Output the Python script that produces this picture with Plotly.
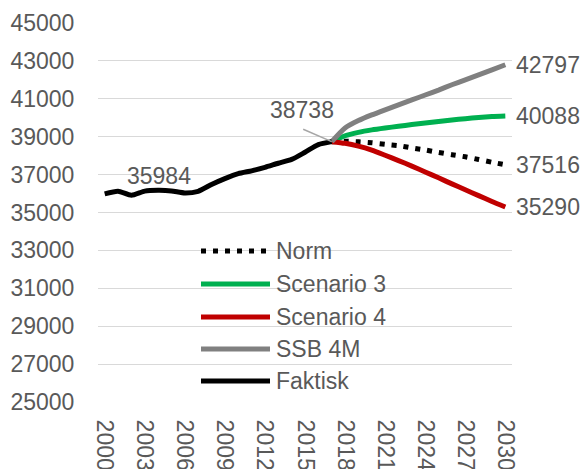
import plotly.graph_objects as go

# faktiske tall
years_faktisk = list(range(2000, 2018))
faktisk = [35984, 36120, 35910, 36130, 36170, 36140, 36030, 36120, 36480,
           36790, 37050, 37200, 37380, 37600, 37800, 38180, 38580, 38738]

# prognoser
years_prognose = list(range(2017, 2031))
norm = [38738, 38760, 38730, 38680, 38600, 38530, 38410, 38300, 38170,
        38050, 37940, 37800, 37650, 37516]
scenario3 = [38738, 39050, 39230, 39360, 39460, 39550, 39640, 39720, 39800,
             39880, 39950, 40010, 40060, 40088]
scenario4 = [38738, 38650, 38500, 38290, 38020, 37740, 37450, 37140, 36830,
             36510, 36200, 35890, 35580, 35290]
ssb4m = [38738, 39460, 39850, 40150, 40420, 40680, 40940, 41200, 41460,
         41740, 42000, 42260, 42530, 42797]

y_ticks = list(range(25000, 45001, 2000))
x_ticks = list(range(2000, 2031, 3))

FONT = "Liberation Sans, Arial, sans-serif"
GREY_TXT = "#595959"

series = [
    ("Norm", years_prognose, norm, "#000000", "5px,7px"),
    ("Scenario 3", years_prognose, scenario3, "#00b050", "solid"),
    ("Scenario 4", years_prognose, scenario4, "#c00000", "solid"),
    ("SSB 4M", years_prognose, ssb4m, "#808080", "solid"),
    ("Faktisk", years_faktisk, faktisk, "#000000", "solid"),
]

fig = go.Figure()

for name, xs, ys, color, dash in series:
    fig.add_trace(go.Scatter(
        x=xs, y=ys, name=name, mode="lines",
        line=dict(color=color, width=5, dash=dash, shape="spline", smoothing=0.6),
        showlegend=False,
    ))

# end labels
for name, xs, ys, color, dash in series[:4]:
    fig.add_annotation(x=xs[-1], y=ys[-1], text=str(ys[-1]), showarrow=False,
                       xanchor="left", yanchor="middle", xshift=9,
                       font=dict(family=FONT, size=23, color=GREY_TXT))

fig.add_annotation(x=years_faktisk[0], y=faktisk[0], text=str(faktisk[0]),
                   showarrow=False, xshift=54, yshift=18,
                   font=dict(family=FONT, size=23, color=GREY_TXT))
fig.add_annotation(x=years_faktisk[-1], y=faktisk[-1], text=str(faktisk[-1]),
                   showarrow=False, xshift=-30, yshift=32,
                   font=dict(family=FONT, size=23, color=GREY_TXT))
fig.add_annotation(x=years_faktisk[-1], y=faktisk[-1], text="", showarrow=True,
                   ax=-30, ay=-13, arrowhead=0, arrowwidth=1.5,
                   arrowcolor="#a6a6a6", standoff=0)

# legend drawn by hand so the line samples get Excel's length
row_y = [251, 284, 317, 349, 381]
for (name, xs, ys, color, dash), py in zip(series, row_y):
    yp = (402 - py) / 379
    fig.add_shape(type="line", xref="paper", yref="paper",
                  x0=(201 - 98) / 414, x1=(270 - 98) / 414, y0=yp, y1=yp,
                  line=dict(color=color, width=5, dash=dash))
    fig.add_annotation(xref="paper", yref="paper", x=(274 - 98) / 414, y=yp,
                       text=name, showarrow=False, xanchor="left", yanchor="middle",
                       font=dict(family=FONT, size=23, color=GREY_TXT))

fig.update_layout(
    width=587, height=469,
    margin=dict(l=98, r=75, t=23, b=67),
    paper_bgcolor="white", plot_bgcolor="white",
    font=dict(family=FONT, size=23, color=GREY_TXT),
    showlegend=False,
)
fig.update_xaxes(range=[1999.5, 2030.5], tickvals=x_ticks, tickangle=90,
                 automargin=False,
                 showgrid=False, zeroline=False, showline=False,
                 ticks="outside", ticklen=12, tickcolor="rgba(0,0,0,0)",
                 tickfont=dict(family=FONT, size=23, color=GREY_TXT))
fig.update_yaxes(range=[25000, 45000], tickvals=y_ticks, tickformat="d",
                 automargin=False,
                 showgrid=True, gridcolor="#d9d9d9", gridwidth=1,
                 zeroline=False, showline=False,
                 ticks="outside", ticklen=18, tickcolor="rgba(0,0,0,0)",
                 tickfont=dict(family=FONT, size=23, color=GREY_TXT))

# the page body has a default 8px margin; drop it
fig.write_html("out.html", config={"displayModeBar": False},
               post_script="document.body.style.margin='0';")
